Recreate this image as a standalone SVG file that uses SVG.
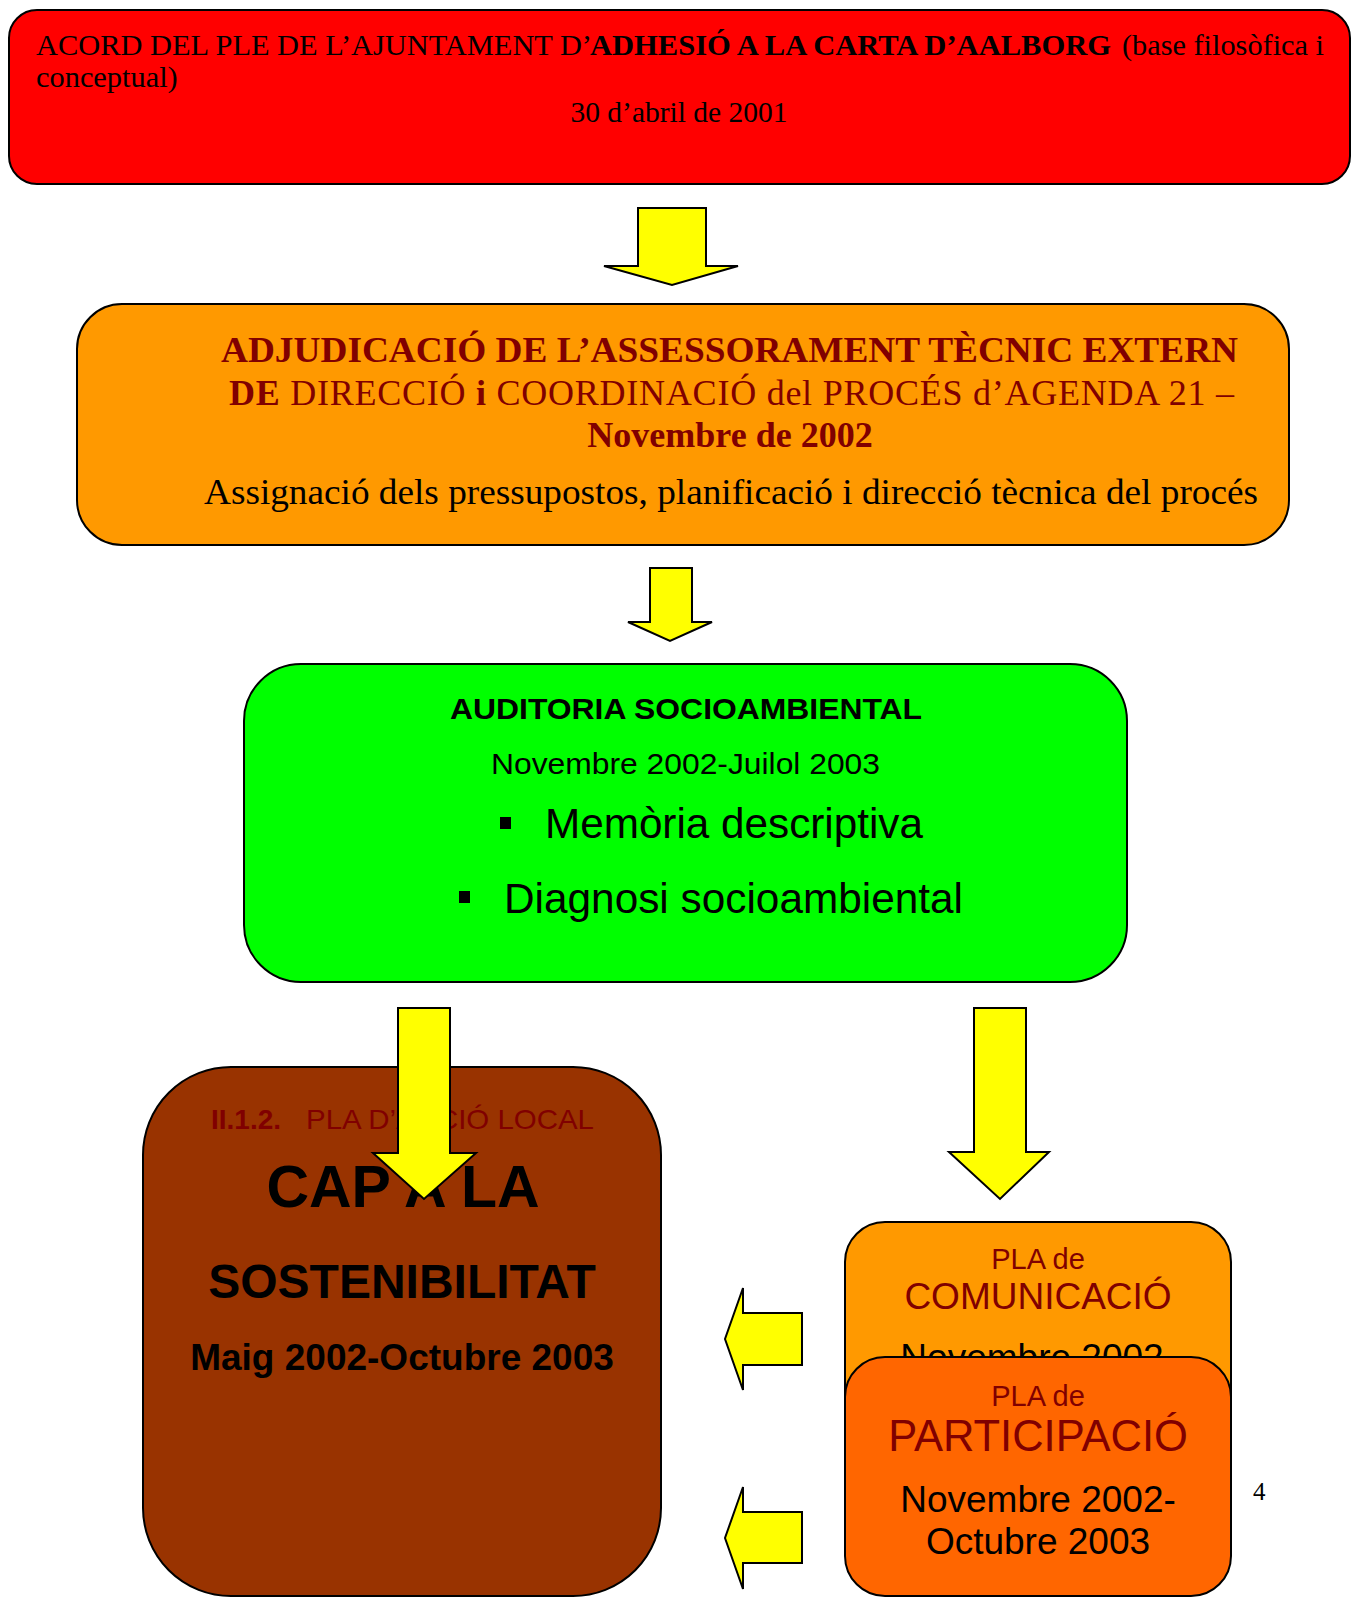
<svg xmlns="http://www.w3.org/2000/svg" width="1353" height="1598" viewBox="0 0 1353 1598">
<style>
.box{stroke:#000;stroke-width:2}
.arrow{fill:#FFFF00;stroke:#000;stroke-width:2;stroke-linejoin:miter}
.serif{font-family:"Liberation Serif","Times New Roman",serif}
.sans{font-family:"Liberation Sans",Arial,sans-serif}
.dr{fill:#800000}
.b{font-weight:bold}
</style>
<rect width="1353" height="1598" fill="#fff"/>
<g id="node-acord">
<rect class="box" x="9" y="10" width="1341" height="174" rx="28" fill="#FF0000"/>
<text class="serif" x="36" y="55" font-size="30.4" textLength="556" lengthAdjust="spacingAndGlyphs">ACORD DEL PLE DE L’AJUNTAMENT D’</text>
<text class="serif b" x="590" y="55" font-size="30.4" textLength="521" lengthAdjust="spacingAndGlyphs">ADHESIÓ A LA CARTA D’AALBORG</text>
<text class="serif" x="1122" y="55" font-size="30.4" textLength="202" lengthAdjust="spacingAndGlyphs">(base filosòfica i</text>
<text class="serif" x="36" y="87" font-size="30.4">conceptual)</text>
<text class="serif" x="679" y="122" font-size="29.5" text-anchor="middle">30 d’abril de 2001</text>
</g>
<g id="node-adjudicacio">
<rect class="box" x="77" y="304" width="1212" height="241" rx="45" fill="#FF9900"/>
<text class="serif b dr" x="221" y="362" font-size="36" textLength="1017" lengthAdjust="spacingAndGlyphs">ADJUDICACIÓ DE L’ASSESSORAMENT TÈCNIC EXTERN</text>
<text class="serif dr" x="229" y="405" font-size="36" textLength="1005" lengthAdjust="spacing"><tspan font-weight="bold">DE</tspan> DIRECCIÓ <tspan font-weight="bold">i</tspan> COORDINACIÓ del PROCÉS d’AGENDA 21 –</text>
<text class="serif b dr" x="730" y="447" font-size="36" text-anchor="middle">Novembre de 2002</text>
<text class="serif" x="204" y="504" font-size="36" textLength="1054" lengthAdjust="spacingAndGlyphs">Assignació dels pressupostos, planificació i direcció tècnica del procés</text>
</g>
<g id="node-auditoria">
<rect class="box" x="244" y="664" width="883" height="318" rx="57" fill="#00FF00"/>
<text class="sans b" x="450" y="719" font-size="30" textLength="472" lengthAdjust="spacingAndGlyphs">AUDITORIA SOCIOAMBIENTAL</text>
<text class="sans" x="491" y="774" font-size="30" textLength="389" lengthAdjust="spacingAndGlyphs">Novembre 2002-Juilol 2003</text>
<rect x="500" y="817" width="11" height="12" fill="#000"/>
<text class="sans" x="545" y="838" font-size="42" textLength="378" lengthAdjust="spacingAndGlyphs">Memòria descriptiva</text>
<rect x="459" y="891" width="11" height="12" fill="#000"/>
<text class="sans" x="504" y="913" font-size="42" textLength="459" lengthAdjust="spacingAndGlyphs">Diagnosi socioambiental</text>
</g>
<g id="node-pla-accio">
<rect class="box" x="143" y="1067" width="518" height="529" rx="88" fill="#993300"/>
<text class="sans b dr" x="211" y="1129" font-size="28">II.1.2.</text>
<text class="sans dr" x="306" y="1129" font-size="28" textLength="288" lengthAdjust="spacingAndGlyphs">PLA D’ACCIÓ LOCAL</text>
<text class="sans b" x="403" y="1207" font-size="59" text-anchor="middle">CAP A LA</text>
<text class="sans b" x="402" y="1298" font-size="48" text-anchor="middle">SOSTENIBILITAT</text>
<text class="sans b" x="402" y="1370" font-size="37" text-anchor="middle">Maig 2002-Octubre 2003</text>
</g>
<g id="node-comunicacio">
<rect class="box" x="845" y="1222" width="386" height="300" rx="40" fill="#FF9900"/>
<text class="sans dr" x="1038" y="1269" font-size="29" text-anchor="middle">PLA de</text>
<text class="sans dr" x="1038" y="1309" font-size="37" text-anchor="middle">COMUNICACIÓ</text>
<text class="sans" x="1032" y="1370" font-size="37" text-anchor="middle">Novembre 2002</text>
</g>
<g id="node-participacio">
<rect class="box" x="845" y="1357" width="386" height="239" rx="40" fill="#FF6600"/>
<text class="sans dr" x="1038" y="1406" font-size="29" text-anchor="middle">PLA de</text>
<text class="sans dr" x="1038" y="1451" font-size="43.5" text-anchor="middle">PARTICIPACIÓ</text>
<text class="sans" x="1038" y="1512" font-size="37" text-anchor="middle">Novembre 2002-</text>
<text class="sans" x="1038" y="1554" font-size="37" text-anchor="middle">Octubre 2003</text>
</g>
<g id="connectors">
<polygon class="arrow" points="638,208 706,208 706,266 738,266 672,285 604,266 638,266"/>
<polygon class="arrow" points="650,568 692,568 692,622 712,622 670,641 628,622 650,622"/>
<polygon class="arrow" points="398,1008 450,1008 450,1153 476,1153 424,1199 373,1153 398,1153"/>
<polygon class="arrow" points="974,1008 1026,1008 1026,1152 1049,1152 1000,1199 949,1152 974,1152"/>
<polygon class="arrow" points="802,1313 802,1365 743,1365 743,1390 725,1339 743,1288 743,1313"/>
<polygon class="arrow" points="802,1512 802,1563 743,1563 743,1589 725,1538 743,1487 743,1512"/>
</g>
<text class="serif" x="1253" y="1500" font-size="25">4</text>
</svg>
